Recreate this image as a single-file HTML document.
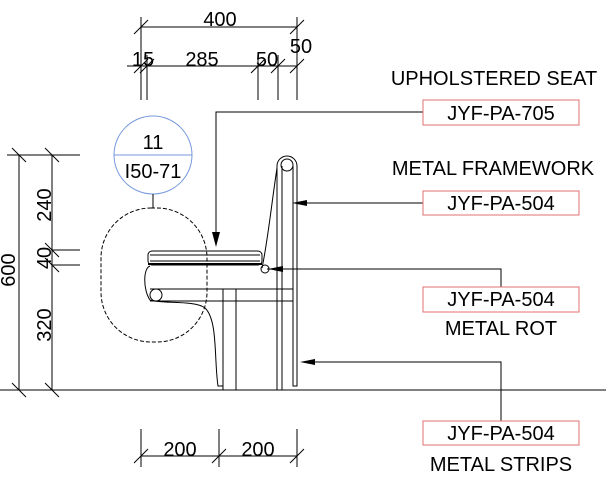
<!DOCTYPE html>
<html><head><meta charset="utf-8"><style>body{margin:0;background:#fff}svg{display:block}text{font-family:"Liberation Sans",Arial,sans-serif;fill:#000}</style></head><body>
<svg width="606" height="477" viewBox="0 0 606 477" xmlns="http://www.w3.org/2000/svg">
<g stroke="#000" stroke-width="1" fill="none">
<line x1="141" y1="27" x2="297" y2="27"/>
<line x1="141" y1="17" x2="141" y2="100"/><line x1="297" y1="17" x2="297" y2="100"/>
<line x1="134" y1="34" x2="148" y2="20"/><line x1="290" y1="34" x2="304" y2="20"/>
<line x1="127" y1="66" x2="297" y2="66"/>
<line x1="147" y1="55" x2="147" y2="100"/><line x1="258" y1="55" x2="258" y2="100"/><line x1="278" y1="55" x2="278" y2="100"/>
<line x1="134" y1="73" x2="148" y2="59"/><line x1="140" y1="73" x2="154" y2="59"/><line x1="251" y1="73" x2="265" y2="59"/><line x1="271" y1="73" x2="285" y2="59"/><line x1="290" y1="73" x2="304" y2="59"/>
<line x1="19" y1="155" x2="19" y2="390"/><line x1="52" y1="155" x2="52" y2="390"/>
<line x1="7" y1="155" x2="80" y2="155"/>
<line x1="12" y1="148" x2="26" y2="162"/><line x1="45" y1="148" x2="59" y2="162"/>
<line x1="52" y1="250" x2="80" y2="250"/><line x1="52" y1="265" x2="80" y2="265"/>
<line x1="45" y1="243" x2="59" y2="257"/><line x1="45" y1="258" x2="59" y2="272"/>
<line x1="12" y1="383" x2="26" y2="397"/><line x1="45" y1="383" x2="59" y2="397"/>
<line x1="0" y1="390" x2="606" y2="390"/>
<line x1="141" y1="456" x2="297" y2="456"/>
<line x1="141" y1="429" x2="141" y2="467"/><line x1="219" y1="429" x2="219" y2="467"/><line x1="297" y1="429" x2="297" y2="467"/>
<line x1="134" y1="463" x2="148" y2="449"/><line x1="212" y1="463" x2="226" y2="449"/><line x1="290" y1="463" x2="304" y2="449"/>
<circle cx="153" cy="155" r="39" stroke="#7799dd"/>
<line x1="114" y1="155" x2="192" y2="155" stroke="#7799dd"/>
<line x1="153" y1="194" x2="153" y2="208"/>
<rect x="101" y="208" width="106" height="134" rx="50" ry="50" stroke-dasharray="4,2"/>
<rect x="148" y="251" width="114" height="14" rx="4"/>
<line x1="150" y1="255" x2="260" y2="255"/><line x1="150" y1="261" x2="260" y2="261"/>
<line x1="148" y1="264" x2="262" y2="264" stroke-width="2"/>
<path d="M262 268 C268 240 272 200 277 168"/>
<path d="M150 266 C143 268 143 290 150 300 C160 304 195 300 205 308 C218 320 214 360 218 386 L223 386"/>
<line x1="150" y1="289" x2="293" y2="289"/><line x1="150" y1="301" x2="293" y2="301"/>
<circle cx="156" cy="295" r="6"/>
<circle cx="265" cy="269" r="4"/>
<line x1="223" y1="289" x2="223" y2="390"/><line x1="236" y1="289" x2="236" y2="390"/>
<path d="M277 390 L277 166 A10 10 0 0 1 297 166 L297 386 L293 386 L293 166"/>
<line x1="282" y1="166" x2="282" y2="390"/>
<circle cx="287" cy="165" r="6"/>
<path d="M423 112 L216 112 L216 240"/>
<line x1="423" y1="203" x2="305" y2="203"/>
<path d="M267 269 L501 269 L501 287"/>
<path d="M310 362 L501 362 L501 421"/>
</g>
<g fill="#000">
<polygon points="216,247 212,232 220,232"/>
<polygon points="292,203 307,200 307,206"/>
<polygon points="268,269 283,266 283,272"/>
<polygon points="300,362 315,359 315,365"/>
</g>
<g fill="none" stroke="#e07070">
<rect x="423" y="100" width="156" height="25"/>
<rect x="423" y="191" width="156" height="24"/>
<rect x="423" y="287" width="156" height="25"/>
<rect x="423" y="421" width="156" height="24"/>
</g>
<g font-size="20" text-anchor="middle">
<text x="220" y="26">400</text>
<text x="143" y="66">15</text>
<text x="202" y="66">285</text>
<text x="267" y="66">50</text>
<text x="301" y="53">50</text>
<text x="180" y="456">200</text>
<text x="258" y="456">200</text>
<text x="153" y="149">11</text>
<text x="153" y="178">I50-71</text>
<text transform="translate(15,270) rotate(-90)">600</text>
<text transform="translate(51,205) rotate(-90)">240</text>
<text transform="translate(51,258) rotate(-90)">40</text>
<text transform="translate(51,325) rotate(-90)">320</text>
<text x="494" y="85">UPHOLSTERED SEAT</text>
<text x="493" y="175">METAL FRAMEWORK</text>
<text x="501" y="120">JYF-PA-705</text>
<text x="501" y="210">JYF-PA-504</text>
<text x="501" y="306">JYF-PA-504</text>
<text x="501" y="335">METAL ROT</text>
<text x="501" y="440">JYF-PA-504</text>
<text x="501" y="471">METAL STRIPS</text>
</g>
</svg>
</body></html>
